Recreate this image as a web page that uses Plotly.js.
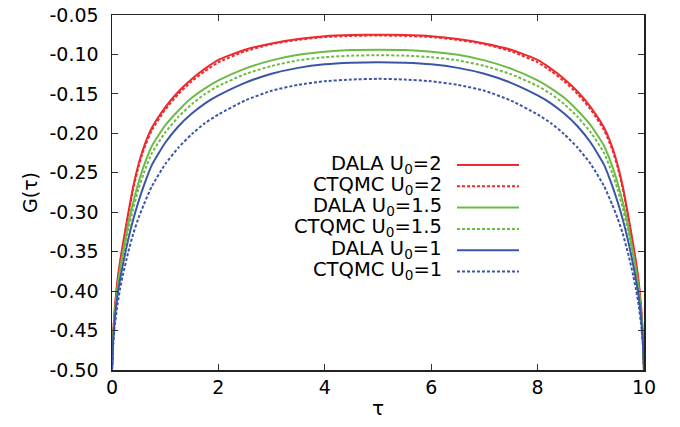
<!DOCTYPE html>
<html>
<head>
<meta charset="utf-8">
<script src="https://cdn.plot.ly/plotly-3.0.1.min.js"></script>
<style>html,body{margin:0;padding:0;background:#fff;}#chart{width:680px;height:427px;}</style>
</head>
<body>
<div id="chart"></div>
<script>
const tau = [0, 0.02, 0.05, 0.1, 0.15, 0.2, 0.3, 0.4, 0.5, 0.6, 0.75, 1, 1.25, 1.5, 1.75, 2, 2.5, 3, 3.5, 4, 4.5, 5,
             5.5, 6, 6.5, 7, 7.5, 8, 8.25, 8.5, 8.75, 9, 9.25, 9.4, 9.5, 9.6, 9.7, 9.8, 9.85, 9.9, 9.95, 9.98, 10];

const dalaU2 = [-0.500, -0.458, -0.423, -0.388, -0.363, -0.342, -0.303, -0.267, -0.239, -0.217, -0.193, -0.167, -0.147, -0.131, -0.118, -0.107, -0.094, -0.086, -0.0805, -0.077, -0.0755, -0.075,
                -0.0755, -0.077, -0.0805, -0.086, -0.094, -0.107, -0.118, -0.131, -0.147, -0.167, -0.193, -0.217, -0.239, -0.267, -0.303, -0.342, -0.363, -0.388, -0.423, -0.458, -0.500];
const ctqmcU2 = [-0.500, -0.460, -0.426, -0.391, -0.366, -0.345, -0.306, -0.270, -0.242, -0.220, -0.196, -0.170, -0.150, -0.134, -0.121, -0.110, -0.0960, -0.087, -0.0815, -0.078, -0.0765, -0.076,
                 -0.0765, -0.078, -0.0815, -0.087, -0.0960, -0.110, -0.121, -0.134, -0.150, -0.170, -0.196, -0.220, -0.242, -0.270, -0.306, -0.345, -0.366, -0.391, -0.426, -0.460, -0.500];
const dalaU15 = [-0.500, -0.462, -0.430, -0.397, -0.373, -0.353, -0.317, -0.287, -0.262, -0.241, -0.216, -0.190, -0.171, -0.155, -0.143, -0.133, -0.118, -0.1075, -0.1005, -0.0965, -0.0945, -0.094,
                 -0.0945, -0.0965, -0.1005, -0.1075, -0.118, -0.133, -0.143, -0.155, -0.171, -0.190, -0.216, -0.241, -0.262, -0.287, -0.317, -0.353, -0.373, -0.397, -0.430, -0.462, -0.500];
const ctqmcU15 = [-0.500, -0.464, -0.433, -0.401, -0.378, -0.359, -0.324, -0.295, -0.270, -0.250, -0.225, -0.199, -0.179, -0.163, -0.150, -0.140, -0.125, -0.1145, -0.1075, -0.1035, -0.1015, -0.101,
                  -0.1015, -0.1035, -0.1075, -0.1145, -0.125, -0.140, -0.150, -0.163, -0.179, -0.199, -0.225, -0.250, -0.270, -0.295, -0.324, -0.359, -0.378, -0.401, -0.433, -0.464, -0.500];
const dalaU1 = [-0.500, -0.466, -0.437, -0.407, -0.386, -0.368, -0.336, -0.309, -0.286, -0.266, -0.240, -0.212, -0.191, -0.175, -0.162, -0.152, -0.136, -0.1245, -0.117, -0.1125, -0.1105, -0.1098,
                -0.1105, -0.1125, -0.117, -0.1245, -0.136, -0.152, -0.162, -0.175, -0.191, -0.212, -0.240, -0.266, -0.286, -0.309, -0.336, -0.368, -0.386, -0.407, -0.437, -0.466, -0.500];
const ctqmcU1 = [-0.500, -0.470, -0.445, -0.418, -0.398, -0.381, -0.352, -0.327, -0.307, -0.290, -0.267, -0.239, -0.218, -0.201, -0.187, -0.176, -0.1585, -0.146, -0.1385, -0.134, -0.1318, -0.1309,
                 -0.1318, -0.134, -0.1385, -0.146, -0.1585, -0.176, -0.187, -0.201, -0.218, -0.239, -0.267, -0.290, -0.307, -0.327, -0.352, -0.381, -0.398, -0.418, -0.445, -0.470, -0.500];

const seriesNames = ['DALA U<sub>0</sub>=2', 'CTQMC U<sub>0</sub>=2', 'DALA U<sub>0</sub>=1.5',
                     'CTQMC U<sub>0</sub>=1.5', 'DALA U<sub>0</sub>=1', 'CTQMC U<sub>0</sub>=1'];
const seriesData = [dalaU2, ctqmcU2, dalaU15, ctqmcU15, dalaU1, ctqmcU1];
const seriesColors = ['#ee2a2e', '#ee2a2e', '#6cbb45', '#6cbb45', '#3a56a6', '#3a56a6'];
const seriesDash = ['solid', '3px,2px', 'solid', '3px,2px', 'solid', '3px,2px'];

const xTicks = [0, 2, 4, 6, 8, 10];
const yTicks = [-0.50, -0.45, -0.40, -0.35, -0.30, -0.25, -0.20, -0.15, -0.10, -0.05];

const FONT = 'DejaVu Sans, Liberation Sans, Arial, sans-serif';

const traces = seriesData.map((ys, i) => ({
  x: tau, y: ys, type: 'scatter', mode: 'lines', name: seriesNames[i],
  line: {color: seriesColors[i], width: 2, dash: seriesDash[i], shape: 'spline', smoothing: 0.5},
  showlegend: false, hoverinfo: 'skip'
}));

// gnuplot-style key: right-aligned text, sample line to the right
const L = 112, R = 644, T = 15, B = 370;
const px = v => (v - L) / (R - L);
const py = v => 1 - (v - T) / (B - T);
const legRow0 = 165, legStep = 21.3;
const annotations = [], shapes = [];
seriesNames.forEach((nm, i) => {
  const yy = legRow0 + i * legStep;
  annotations.push({
    xref: 'paper', yref: 'paper', x: px(444), y: py(yy - 1), xanchor: 'right', yanchor: 'middle',
    text: nm, showarrow: false, font: {family: FONT, size: 19.5, color: '#000'}
  });
  shapes.push({
    type: 'line', xref: 'paper', yref: 'paper', x0: px(457), x1: px(519), y0: py(yy), y1: py(yy),
    line: {color: seriesColors[i], width: 2, dash: seriesDash[i]}
  });
});

const layout = {
  width: 680, height: 427,
  margin: {l: L, r: 680 - R, t: T, b: 427 - B},
  paper_bgcolor: '#fff', plot_bgcolor: '#fff',
  font: {family: FONT, size: 19, color: '#000'},
  xaxis: {
    range: [0, 10], tickvals: xTicks, ticktext: xTicks.map(String),
    ticks: 'inside', ticklen: 6, tickwidth: 1, tickcolor: '#333',
    showline: true, linecolor: '#222', linewidth: 1.5, mirror: 'ticks',
    showgrid: false, zeroline: false,
    tickfont: {family: FONT, size: 19},
    title: {text: 'τ', font: {family: FONT, size: 20}, standoff: 3}
  },
  yaxis: {
    range: [-0.50, -0.05], tickvals: yTicks, ticktext: yTicks.map(v => v.toFixed(2)),
    ticks: 'inside', ticklen: 6, tickwidth: 1, tickcolor: '#333',
    showline: true, linecolor: '#222', linewidth: 1.5, mirror: 'ticks',
    showgrid: false, zeroline: false,
    tickfont: {family: FONT, size: 19}, ticklabelstandoff: 8,
    title: {text: 'G(τ)', font: {family: FONT, size: 19}, standoff: 7}
  },
  annotations: annotations,
  shapes: shapes,
  showlegend: false
};

Plotly.newPlot('chart', traces, layout, {displayModeBar: false, staticPlot: true});
</script>
</body>
</html>
